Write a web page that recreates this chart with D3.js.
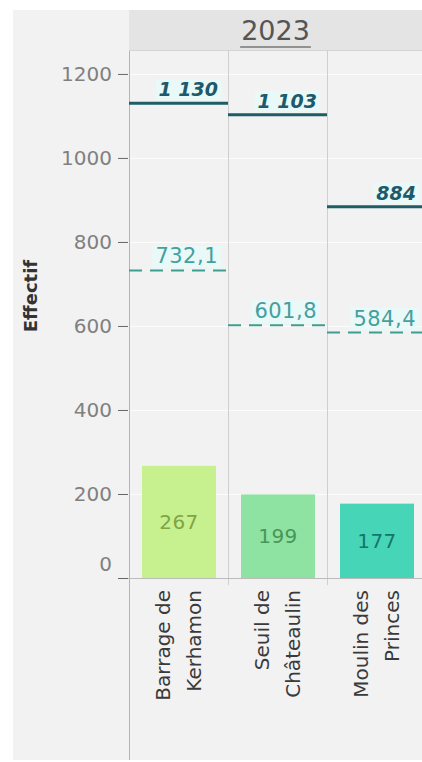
<!DOCTYPE html>
<html lang="fr">
<head>
<meta charset="UTF-8">
<title>Effectif 2023</title>
<style>
  body { margin: 0; background: #fff; }
  svg { display: block; font-family: "DejaVu Sans", sans-serif; }
</style>
</head>
<body>
<script src="https://cdnjs.cloudflare.com/ajax/libs/d3/7.8.5/d3.min.js"></script>
<script>
// donnees
const annee = "2023";
const sites = ["Barrage de Kerhamon", "Seuil de Châteaulin", "Moulin des Princes"];
const siteLignes = [["Barrage de", "Kerhamon"], ["Seuil de", "Châteaulin"], ["Moulin des", "Princes"]];
const effectifs = [267, 199, 177];
const maxima = [1130, 1103, 884];
const moyennes = [732.1, 601.8, 584.4];
const yTicks = [0, 200, 400, 600, 800, 1000, 1200];
const couleurs = ["#c7f08e", "#8fe3a2", "#47d5b7"];
const couleursTexte = ["#7fa544", "#479657", "#16756a"];

const W = 422, H = 762;

const fr = d3.formatLocale({ decimal: ",", thousands: " ", grouping: [3], currency: ["", " €"] });
const fmtInt = fr.format(",d");
const fmtDec = fr.format(",.1f");

const svg = d3.select("body").append("svg")
    .attr("width", W)
    .attr("height", H);

// fond du panneau
svg.append("rect")
    .attr("x", 13).attr("y", 10)
    .attr("width", W - 13).attr("height", 750)
    .attr("fill", "#f2f2f2");

const x = d3.scaleBand().domain(sites).range([129, 426]);
const y = d3.scaleLinear().domain([0, 1257]).range([578, 50]);
const bw = x.bandwidth();

// bandeau annee
svg.append("rect")
    .attr("x", 129).attr("y", 10)
    .attr("width", W - 129).attr("height", 40)
    .attr("fill", "#e4e4e4");
svg.append("line")
    .attr("x1", 129).attr("x2", W)
    .attr("y1", 50.5).attr("y2", 50.5)
    .attr("stroke", "#d4d4d4");

const titre = svg.append("text")
    .attr("x", 275.5).attr("y", 40)
    .attr("text-anchor", "middle")
    .attr("font-size", 27)
    .attr("fill", "#555")
    .text(annee);
const tb = titre.node().getBBox();
svg.append("line")
    .attr("x1", tb.x - 1).attr("x2", tb.x + tb.width + 1)
    .attr("y1", 47).attr("y2", 47)
    .attr("stroke", "#777")
    .attr("stroke-width", 1.5);

// grille
svg.append("g").selectAll("line")
    .data(yTicks)
    .join("line")
    .attr("x1", 129).attr("x2", W)
    .attr("y1", d => Math.round(y(d)) + 0.5)
    .attr("y2", d => Math.round(y(d)) + 0.5)
    .attr("stroke", "#fcfcfc");

// separateurs de colonnes
svg.append("g").selectAll("line")
    .data(sites.map(s => x(s)).concat([x.range()[1]]))
    .join("line")
    .attr("x1", d => Math.round(d) + 0.5)
    .attr("x2", d => Math.round(d) + 0.5)
    .attr("y1", 51)
    .attr("y2", (d, i) => i === 0 ? 760 : 585)
    .attr("stroke", (d, i) => i === 0 ? "#b5b5b5" : "#cfcfcf");

// axe x
svg.append("line")
    .attr("x1", 118).attr("x2", W)
    .attr("y1", 578.5).attr("y2", 578.5)
    .attr("stroke", "#bbb");

// axe y
const yAxis = svg.append("g")
    .attr("transform", "translate(128,0)")
    .call(d3.axisLeft(y).tickValues(yTicks).tickSize(10).tickPadding(6).tickFormat(d3.format("d")));
yAxis.select(".domain").remove();
yAxis.selectAll(".tick line").attr("stroke", "#666");
yAxis.selectAll(".tick text")
    .attr("fill", "#808080")
    .attr("font-size", 20)
    .attr("font-family", "DejaVu Sans, sans-serif");
yAxis.selectAll(".tick").filter(d => d === 0).select("text").attr("dy", "-0.38em");

svg.append("text")
    .attr("transform", "translate(37,296) rotate(-90)")
    .attr("text-anchor", "middle")
    .attr("font-size", 18)
    .attr("font-weight", "bold")
    .attr("fill", "#333")
    .text("Effectif");

// barres
svg.append("g").selectAll("rect")
    .data(sites)
    .join("rect")
    .attr("x", d => x(d) + 13)
    .attr("width", bw - 25)
    .attr("y", (d, i) => y(effectifs[i]))
    .attr("height", (d, i) => y(0) - y(effectifs[i]))
    .attr("fill", (d, i) => couleurs[i]);

svg.append("g").selectAll("text")
    .data(sites)
    .join("text")
    .attr("x", d => x(d) + 13 + (bw - 25) / 2)
    .attr("y", (d, i) => (y(effectifs[i]) + y(0)) / 2)
    .attr("dy", "0.36em")
    .attr("text-anchor", "middle")
    .attr("font-size", 20)
    .attr("letter-spacing", 0.5)
    .attr("fill", (d, i) => couleursTexte[i])
    .text((d, i) => effectifs[i]);

// lignes de niveau (max et moyenne)
function niveau(valeurs, style) {
    const g = svg.append("g");
    g.selectAll("line")
        .data(sites)
        .join("line")
        .attr("x1", d => x(d))
        .attr("x2", d => x(d) + bw)
        .attr("y1", (d, i) => y(valeurs[i]))
        .attr("y2", (d, i) => y(valeurs[i]))
        .attr("stroke", style.stroke)
        .attr("stroke-width", style.width)
        .attr("stroke-dasharray", style.dash);

    const lbl = g.selectAll("g.lbl")
        .data(sites)
        .join("g")
        .attr("class", "lbl");
    const txt = lbl.append("text")
        .attr("x", d => x(d) + bw - 10)
        .attr("y", (d, i) => y(valeurs[i]) - 7)
        .attr("text-anchor", "end")
        .attr("font-size", style.size)
        .attr("font-weight", style.weight)
        .attr("font-style", style.italic)
        .attr("letter-spacing", style.spacing)
        .attr("fill", style.color)
        .text((d, i) => style.fmt(valeurs[i]));
    txt.each(function () {
        const b = this.getBBox();
        d3.select(this.parentNode).insert("rect", "text")
            .attr("x", b.x - 3).attr("y", b.y + 1)
            .attr("width", b.width + 6).attr("height", b.height - 1)
            .attr("fill", "#e6faf8")
            .attr("opacity", 0.8);
    });
}

niveau(moyennes, { stroke: "#3d9e8f", width: 2, dash: "13,8", size: 21, weight: "normal", italic: "normal", spacing: 0.5, color: "#459f9f", fmt: fmtDec });
niveau(maxima, { stroke: "#1d5d66", width: 3, dash: null, size: 19, weight: "bold", italic: "italic", spacing: 0, color: "#1c5a6c", fmt: fmtInt });

// etiquettes x
const xl = svg.append("g").selectAll("text")
    .data(sites)
    .join("text")
    .attr("transform", d => `translate(${x(d) + bw / 2},590) rotate(-90)`)
    .attr("text-anchor", "end")
    .attr("font-size", 20)
    .attr("fill", "#3a3a3a");
xl.selectAll("tspan")
    .data((d, i) => siteLignes[i])
    .join("tspan")
    .attr("x", 0)
    .attr("y", (d, j) => j === 0 ? -9 : 22)
    .text(d => d);
</script>
</body>
</html>
